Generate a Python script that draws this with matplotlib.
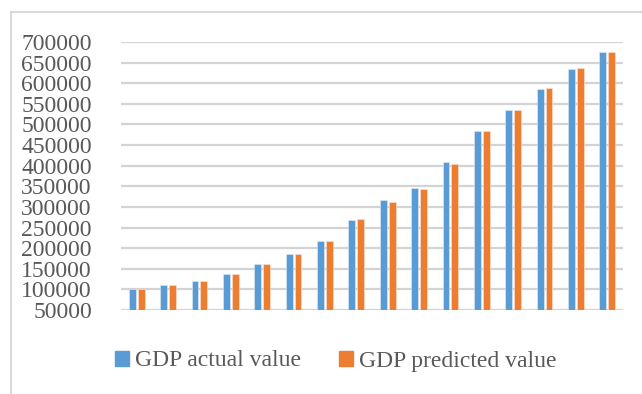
import matplotlib
matplotlib.use("Agg")
import matplotlib.pyplot as plt
from matplotlib.patches import Rectangle, Patch

# GDP series (16 periods)
periods = list(range(1, 17))
gdp_actual = [100000, 109700, 120200, 136300, 160500, 185500, 216900, 267700,
              316100, 345200, 408100, 483900, 533900, 587100, 635500, 676600]
gdp_predicted = [100000, 110000, 120200, 136300, 160500, 185500, 216900, 271000,
                 311300, 343500, 404800, 483900, 535500, 588700, 637100, 676600]
y_ticks = list(range(50000, 700001, 50000))
series_names = ["GDP actual value", "GDP predicted value"]

blue = "#5B9BD5"
orange = "#ED7D31"
text_grey = "#595959"
grid_grey = "#D9D9D9"

W, H = 642, 394
fig = plt.figure(figsize=(W / 100, H / 100), dpi=100)
fig.patch.set_facecolor("white")

# outer chart frame
fig.patches.append(Rectangle((11 / W, -0.1), 1.2, 1 - 12 / H + 0.1,
                             transform=fig.transFigure, fill=False,
                             edgecolor=grid_grey, linewidth=1.5, zorder=0))

ax = fig.add_axes([121 / W, 1 - 310 / H, (623 - 121) / W, (310 - 42) / H])
x = list(range(len(periods)))
off, bw = 0.14, 0.22
ax.bar([i - off for i in x], gdp_actual, width=bw, color=blue,
       edgecolor="#DDEBF7", linewidth=0.4, zorder=3)
ax.bar([i + off for i in x], gdp_predicted, width=bw, color=orange,
       edgecolor="#FBE5D6", linewidth=0.4, zorder=3)

ax.set_xlim(-0.5, len(periods) - 0.5)
ax.set_ylim(y_ticks[0], y_ticks[-1])
ax.set_yticks(y_ticks)
ax.set_yticklabels([str(v) for v in y_ticks], family="Liberation Serif",
                   fontsize=17, color=text_grey)
ax.set_xticks([])
ax.tick_params(axis="y", length=0, pad=21)
for s in ax.spines.values():
    s.set_visible(False)
ax.grid(axis="y", color="#D3D3D3", linewidth=1.6, zorder=0)
ax.set_axisbelow(True)

handles = [Patch(color=blue), Patch(color=orange)]
fig.legend(handles, series_names, loc="center", bbox_to_anchor=(336 / W, 1 - 361 / H),
           ncol=2, frameon=False, handlelength=0.6, handleheight=0.6,
           handletextpad=0.25, columnspacing=1.6,
           prop={"family": "Liberation Serif", "size": 17}, labelcolor=text_grey)

fig.savefig("out.png", dpi=100, facecolor="white")
